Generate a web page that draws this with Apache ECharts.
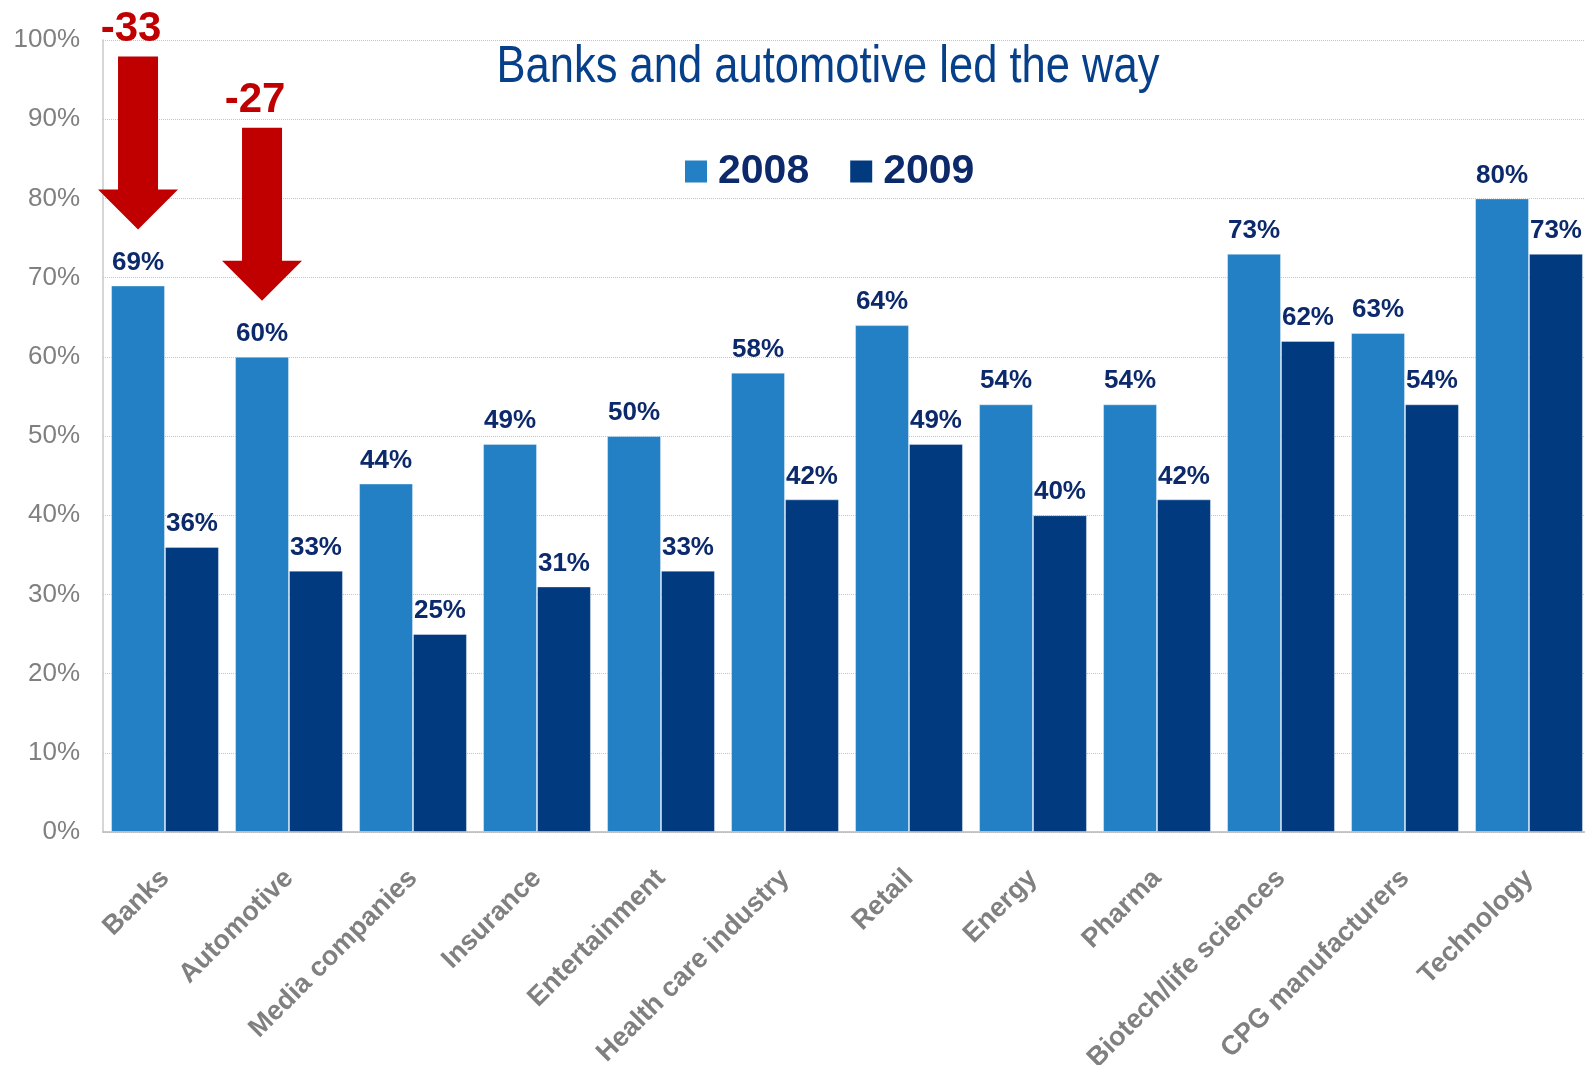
<!DOCTYPE html>
<html>
<head>
<meta charset="utf-8">
<script src="https://cdn.jsdelivr.net/npm/echarts@6/dist/echarts.min.js"></script>
<style>
  html, body { margin: 0; padding: 0; background: #ffffff; }
  #chart { width: 1585px; height: 1065px; }
</style>
</head>
<body>
<div id="chart"></div>
<script>
// Industries surveyed, with shares for 2008 and 2009 (percent)
const categories = ['Banks', 'Automotive', 'Media companies', 'Insurance', 'Entertainment',
  'Health care industry', 'Retail', 'Energy', 'Pharma', 'Biotech/life sciences',
  'CPG manufacturers', 'Technology'];
const values2008 = [69, 60, 44, 49, 50, 58, 64, 54, 54, 73, 63, 80];
const values2009 = [36, 33, 25, 31, 33, 42, 49, 40, 42, 62, 54, 73];
const seriesNames = ['2008', '2009'];
// Industries whose drop is called out with a red arrow
const calloutCategories = ['Banks', 'Automotive'];
const titleText = 'Banks and automotive led the way';

const FONT = "'Liberation Sans', Arial, Helvetica, sans-serif";
const NAVY = '#0c2a6b';
const BAR_CATEGORY_GAP = 0.13;

const calloutData = calloutCategories.map(function (name) {
  const i = categories.indexOf(name);
  return [i, values2008[i], values2009[i]];
});

// Red downward arrow above the 2008 bar, labelled with the change to 2009
function renderArrow(params, api) {
  const i = api.value(0);
  const v08 = api.value(1);
  const v09 = api.value(2);
  const top = api.coord([i, v08]);
  const band = api.size([1, 0])[0];
  const barW = band * (1 - BAR_CATEGORY_GAP) / 2;
  const cx = top[0] - barW / 2;
  const tipY = top[1] - 56;
  const headY = tipY - 40;
  const baseY = tipY - 173;
  const red = '#c00000';
  return {
    type: 'group',
    children: [
      {
        type: 'polygon',
        shape: {
          points: [
            [cx - 20, baseY], [cx + 20, baseY], [cx + 20, headY], [cx + 40, headY],
            [cx, tipY], [cx - 40, headY], [cx - 20, headY]
          ]
        },
        style: { fill: red }
      },
      {
        type: 'text',
        style: {
          text: '-' + (v08 - v09),
          x: cx - 7,
          y: baseY - 6,
          align: 'center',
          verticalAlign: 'bottom',
          fill: red,
          font: 'bold 42px ' + FONT
        }
      }
    ]
  };
}

const chart = echarts.init(document.getElementById('chart'), null, { renderer: 'canvas' });

const valueLabel = {
  show: true,
  position: 'top',
  distance: 10,
  formatter: '{c}%',
  color: NAVY,
  fontSize: 26,
  fontWeight: 'bold',
  fontFamily: FONT
};

chart.setOption({
  backgroundColor: '#ffffff',
  animation: false,
  grid: {
    left: 103,
    width: 1488,
    top: 40,
    bottom: 233,
    containLabel: false,
    outerBoundsMode: 'none'
  },
  graphic: [
    {
      type: 'text',
      x: 828,
      y: 68,
      scaleX: 0.837,
      style: {
        text: titleText,
        x: 0,
        y: 0,
        align: 'center',
        verticalAlign: 'middle',
        fill: '#07408a',
        font: '52px ' + FONT
      },
      z: 10
    }
  ],
  legend: {
    data: seriesNames,
    left: 680,
    top: 146,
    icon: 'rect',
    itemWidth: 22,
    itemHeight: 22,
    itemGap: 41,
    itemStyle: { borderWidth: 0 },
    textStyle: {
      color: NAVY,
      fontSize: 41,
      fontWeight: 'bold',
      fontFamily: FONT,
      padding: [0, 0, 0, 6]
    }
  },
  xAxis: {
    type: 'category',
    data: categories,
    axisTick: { show: false },
    axisLine: { lineStyle: { color: '#b8b8b8', width: 1.5 } },
    axisLabel: {
      interval: 0,
      rotate: 45,
      margin: 42,
      color: '#808080',
      fontSize: 27,
      fontWeight: 'bold',
      fontFamily: FONT
    }
  },
  yAxis: {
    type: 'value',
    min: 0,
    max: 100,
    interval: 10,
    axisLine: { show: true, lineStyle: { color: '#c8c8c8', width: 1.5 } },
    axisTick: { show: false },
    axisLabel: {
      formatter: '{value}%',
      margin: 23,
      padding: [4, 0, 0, 0],
      color: '#808080',
      fontSize: 26,
      fontFamily: FONT
    },
    splitLine: { lineStyle: { color: '#c4c4c4', type: 'dotted', width: 1 } }
  },
  series: [
    {
      name: seriesNames[0],
      type: 'bar',
      data: values2008,
      barGap: '0%',
      barCategoryGap: (BAR_CATEGORY_GAP * 100) + '%',
      itemStyle: { color: '#2480c4', borderColor: 'rgba(255,255,255,0.35)', borderWidth: 1 },
      label: valueLabel
    },
    {
      name: seriesNames[1],
      type: 'bar',
      data: values2009,
      barGap: '0%',
      barCategoryGap: (BAR_CATEGORY_GAP * 100) + '%',
      itemStyle: { color: '#023a80', borderColor: 'rgba(255,255,255,0.35)', borderWidth: 1 },
      label: valueLabel
    },
    {
      name: 'callouts',
      type: 'custom',
      data: calloutData,
      renderItem: renderArrow,
      clip: false,
      silent: true,
      z: 20
    }
  ]
});
</script>
</body>
</html>
